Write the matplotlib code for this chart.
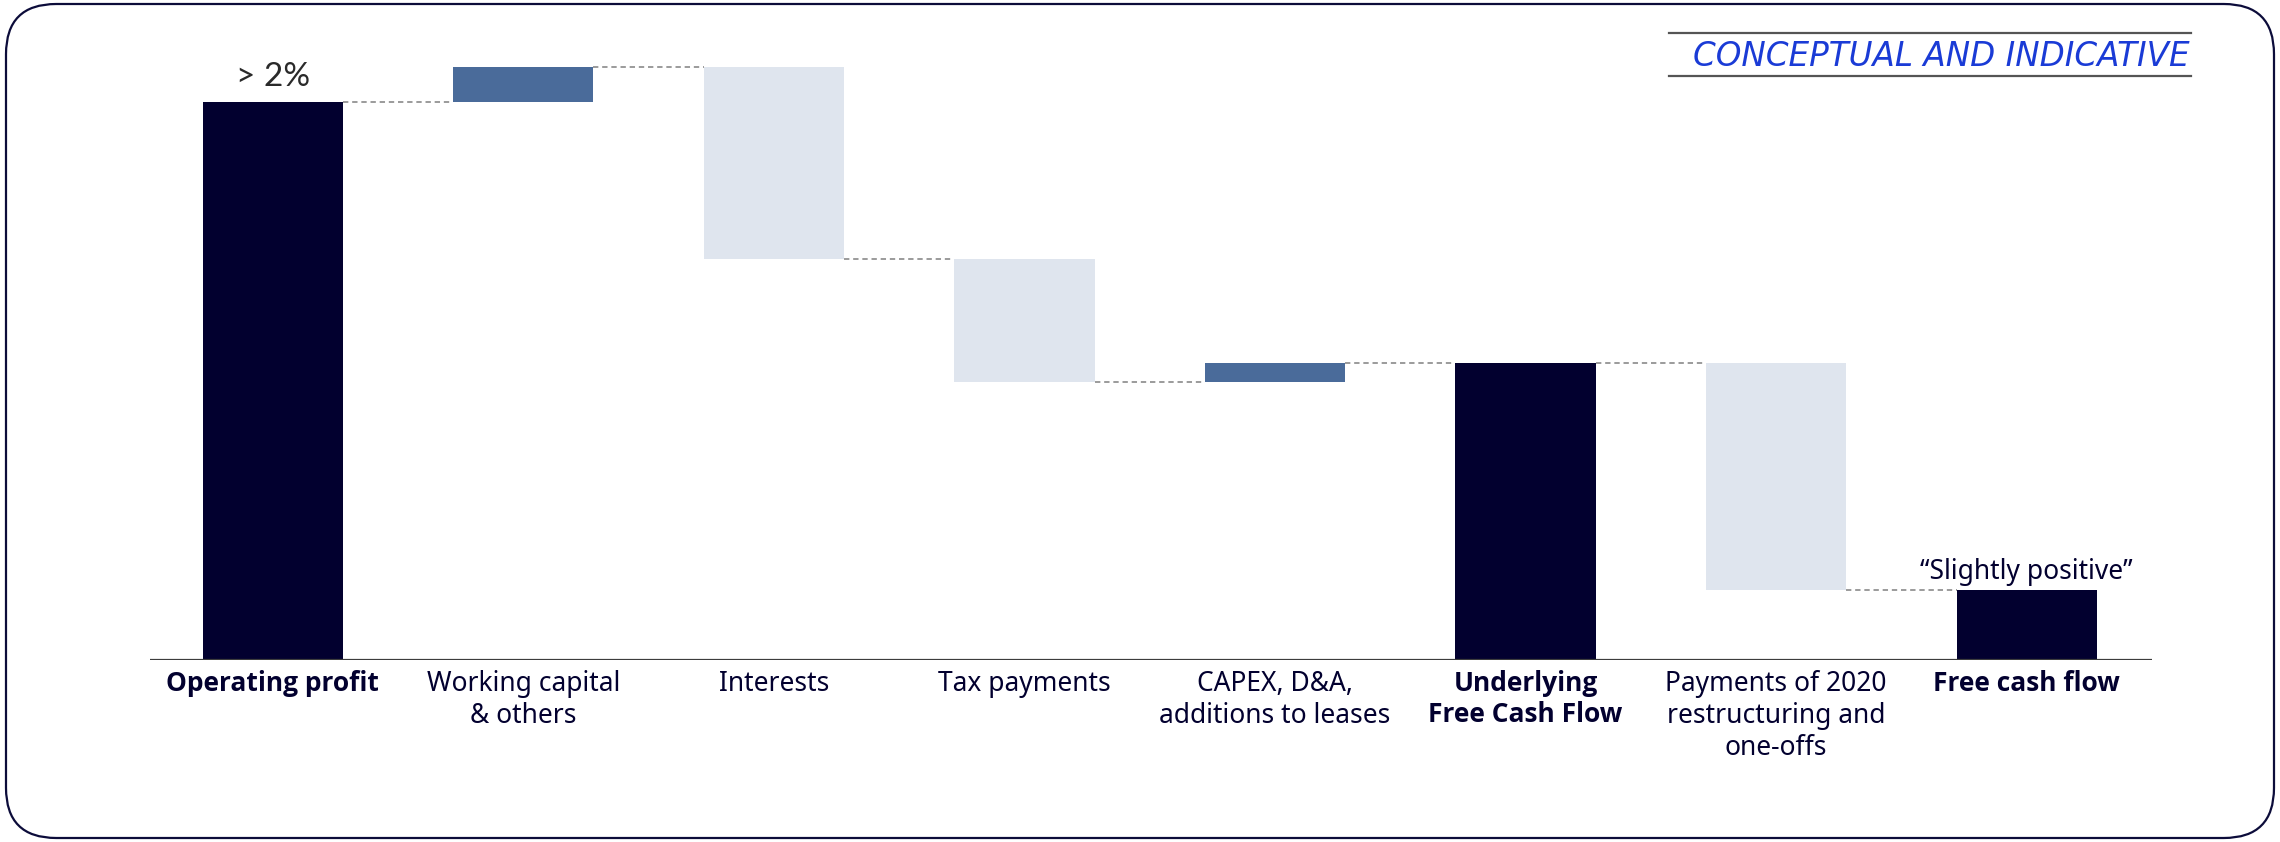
import matplotlib
matplotlib.use("Agg")
import matplotlib.pyplot as plt
from matplotlib.patches import FancyBboxPatch
from matplotlib.lines import Line2D

plt.rcParams['font.family'] = ['Noto Sans', 'Open Sans', 'DejaVu Sans']

# Waterfall steps (index: Operating profit = 100)
categories = ["Operating profit", "Working capital\n& others", "Interests", "Tax payments",
              "CAPEX, D&A,\nadditions to leases", "Underlying\nFree Cash Flow",
              "Payments of 2020\nrestructuring and\none-offs", "Free cash flow"]
deltas = [100.0, 6.2, -34.4, -21.9, 3.4, None, -40.7, None]
is_total = [True, False, False, False, False, True, False, True]
bold_labels = [True, False, False, False, False, True, False, True]
note_op = "> 2%"
note_fcf = "\u201cSlightly positive\u201d"

NAVY = "#02002f"
UP = "#4a6b9a"
DOWN = "#dfe5ee"

W, H = 2280, 842
fig = plt.figure(figsize=(W / 100, H / 100), dpi=100)

# Rounded frame around the whole panel
frame = FancyBboxPatch((6 / W, 4 / H), (W - 12) / W, (H - 8) / H,
                       boxstyle="round,pad=0,rounding_size=0.022",
                       transform=fig.transFigure, facecolor="none",
                       edgecolor="#0c0c3a", linewidth=1.6,
                       mutation_aspect=W / H)
fig.patches.append(frame)

base_px, top_px = 660, 40
unit_px = 558 / 100.0
ax = fig.add_axes([150 / W, (H - base_px) / H, (2152 - 150) / W, (base_px - top_px) / H])
ax.set_xlim(-0.49, 7.5)
ax.set_ylim(0, (base_px - top_px) / unit_px)

bar_w = 0.56
level = 0.0
levels = []
for i, (d, tot) in enumerate(zip(deltas, is_total)):
    # dashed connector from previous bar at the running level
    if i > 0:
        ax.plot([i - 1 + bar_w / 2, i - bar_w / 2], [level, level],
                color="#808080", lw=1.1, ls=(0, (3.5, 2.5)), zorder=1)
    if tot:
        if d is not None:
            level = d
        bottom, height, color = 0, level, NAVY
    else:
        new_level = level + d
        bottom, height = min(level, new_level), abs(d)
        color = UP if d > 0 else DOWN
        level = new_level
    levels.append(level)
    ax.bar(i, height, bottom=bottom, width=bar_w, color=color, linewidth=0, zorder=2)

# baseline
ax.axhline(0, color="#3c3c3c", lw=1.6, zorder=3)

for s in ax.spines.values():
    s.set_visible(False)
ax.set_xticks([])
ax.set_yticks([])

# category labels
for i, lab in enumerate(categories):
    if bold_labels[i]:
        fam = ['Open Sans', 'Noto Sans', 'DejaVu Sans']
        wt = "bold"
    else:
        fam = ['Noto Sans', 'Open Sans', 'DejaVu Sans']
        wt = "normal"
    ax.annotate(lab, xy=(i, 0), xytext=(0, -10), textcoords="offset pixels",
                ha="center", va="top", fontsize=19, family=fam, fontweight=wt,
                color=NAVY, linespacing=1.18, annotation_clip=False)

# notes above bars
ax.annotate(note_op, xy=(0, levels[0]), xytext=(0, 10), textcoords="offset pixels",
            ha="center", va="bottom", fontsize=24, color="#2a2a2a",
            family=['Lato', 'Open Sans', 'DejaVu Sans'])
ax.annotate(note_fcf, xy=(7, levels[7]), xytext=(0, 4), textcoords="offset pixels",
            ha="center", va="bottom", fontsize=19, color=NAVY)

# stamp in top-right corner
fig.add_artist(Line2D([1669 / W, 2191 / W], [1 - 33 / H, 1 - 33 / H],
                      color="#555555", lw=1.6, transform=fig.transFigure))
fig.add_artist(Line2D([1669 / W, 2191 / W], [1 - 76 / H, 1 - 76 / H],
                      color="#555555", lw=1.6, transform=fig.transFigure))
fig.text(2190 / W, 1 - 56 / H, "CONCEPTUAL AND INDICATIVE", ha="right", va="center",
         fontsize=23.5, style="italic", color="#1a3bd6",
         family=['DejaVu Sans'])

fig.savefig("out.png", dpi=100, facecolor="white")
